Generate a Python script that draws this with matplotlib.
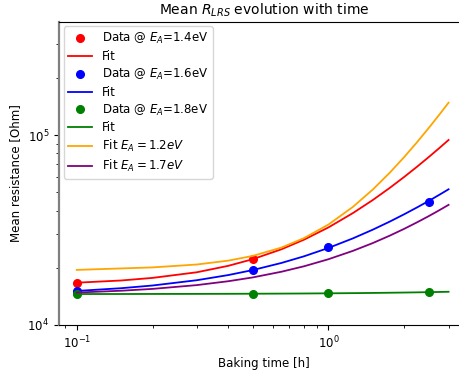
import matplotlib
matplotlib.use("Agg")
import matplotlib.pyplot as plt

# Measured mean LRS resistance at each baking time
t_data = [0.1, 0.5, 1.0, 2.5]
t_data_14 = [0.1, 0.5]
r_data_14 = [16700, 22200]
r_data_16 = [15100, 19460, 25740, 44600]
r_data_18 = [14560, 14600, 14680, 14860]

# Fitted curves sampled along the baking-time axis
t_fit = [0.1, 0.15, 0.2, 0.3, 0.4, 0.5, 0.65, 0.8, 1.0, 1.25, 1.5, 1.75,
         2.0, 2.25, 2.5, 2.75, 3.0]
r_fit_14 = [16700, 17150, 17700, 18950, 20490, 22200, 25030, 28140, 32640,
            38820, 45490, 52640, 60210, 68160, 76490, 85150, 94200]
r_fit_16 = [15110, 15620, 16140, 17210, 18320, 19460, 21210, 23000, 25450,
            28570, 31760, 35000, 38290, 41610, 44940, 48380, 51800]
r_fit_18 = [14555, 14560, 14570, 14580, 14595, 14610, 14630, 14650, 14680,
            14715, 14750, 14785, 14820, 14855, 14890, 14925, 14960]
r_fit_12 = [19500, 19850, 20100, 20820, 21820, 23100, 25560, 28670, 33800,
            41830, 51650, 63250, 76630, 91790, 108740, 127480, 148000]
r_fit_17 = [14820, 15150, 15490, 16220, 17000, 17800, 19070, 20380, 22200,
            24560, 27000, 29520, 32090, 34730, 37400, 40130, 42900]

fig = plt.figure(figsize=(4.59, 3.74), dpi=100)
ax = fig.add_axes([59 / 459, 49 / 374, 409.5 / 459, 303.3 / 374])

ms = 5.5
lw = 1.3
ax.plot(t_data_14, r_data_14, 'o', color='red', ms=ms, label='Data @ $E_A$=1.4eV')
ax.plot(t_fit, r_fit_14, '-', color='red', lw=lw, label='Fit')
ax.plot(t_data, r_data_16, 'o', color='blue', ms=ms, label='Data @ $E_A$=1.6eV')
ax.plot(t_fit, r_fit_16, '-', color='blue', lw=lw, label='Fit')
ax.plot(t_data, r_data_18, 'o', color='green', ms=ms, label='Data @ $E_A$=1.8eV')
ax.plot(t_fit, r_fit_18, '-', color='green', lw=lw, label='Fit')
ax.plot(t_fit, r_fit_12, '-', color='orange', lw=lw, label='Fit $E_A = 1.2 eV$')
ax.plot(t_fit, r_fit_17, '-', color='purple', lw=lw, label='Fit $E_A = 1.7 eV$')

ax.set_xscale('log')
ax.set_yscale('log')
ax.set_xlim(0.085, 3.6)
ax.set_ylim(1e4, 3.95e5)

ax.set_title('Mean $R_{LRS}$ evolution with time', fontsize=10, pad=5)
ax.set_xlabel('Baking time [h]', fontsize=8.5)
ax.set_ylabel('Mean resistance [Ohm]', fontsize=8.5)
ax.tick_params(labelsize=8.5)
ax.spines['left'].set_color('#808080')
ax.spines['left'].set_linewidth(1.6)

ax.legend(loc='upper left', fontsize=8.5, labelspacing=0.32,
          borderaxespad=0.4)

fig.savefig('out.png', dpi=100)
